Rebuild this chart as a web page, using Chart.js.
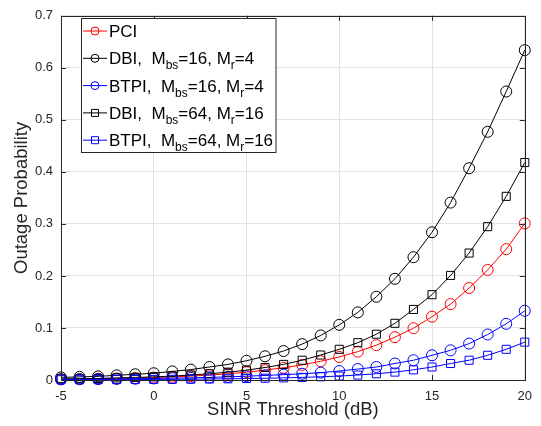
<!DOCTYPE html>
<html>
<head>
<meta charset="utf-8">
<script src="https://cdn.jsdelivr.net/npm/chart.js@4/dist/chart.umd.min.js"></script>
<style>
  html, body { margin: 0; padding: 0; background: #fff; }
  #wrap { width: 541px; height: 426px; }
</style>
</head>
<body>
<div id="wrap"><canvas id="myChart" width="541" height="426"></canvas></div>
<script>
'use strict';

// data
var snrDb = [-5, -4, -3, -2, -1, 0, 1, 2, 3, 4, 5, 6, 7, 8, 9, 10, 11, 12, 13, 14, 15, 16, 17, 18, 19, 20];
var pci = [0.0015, 0.0019, 0.0024, 0.003, 0.0037, 0.0047, 0.006, 0.0075, 0.0095, 0.012, 0.015, 0.019, 0.0235, 0.029, 0.036, 0.0443, 0.0545, 0.067, 0.0824, 0.0995, 0.1217, 0.1458, 0.1768, 0.2116, 0.2515, 0.301];
var dbi16 = [0.005, 0.006, 0.007, 0.009, 0.011, 0.013, 0.0165, 0.020, 0.025, 0.030, 0.037, 0.0456, 0.0557, 0.069, 0.0856, 0.106, 0.130, 0.160, 0.1945, 0.236, 0.284, 0.341, 0.407, 0.477, 0.5545, 0.634];
var btpi16 = [0.0013, 0.0015, 0.0018, 0.0021, 0.0025, 0.003, 0.0035, 0.0042, 0.005, 0.006, 0.0073, 0.0088, 0.0103, 0.012, 0.0142, 0.0172, 0.021, 0.025, 0.0317, 0.038, 0.0475, 0.057, 0.070, 0.0875, 0.108, 0.133];
var dbi64 = [0.002, 0.0025, 0.003, 0.004, 0.005, 0.006, 0.0075, 0.0095, 0.012, 0.015, 0.019, 0.024, 0.030, 0.038, 0.048, 0.059, 0.0717, 0.088, 0.109, 0.1356, 0.164, 0.201, 0.244, 0.2947, 0.353, 0.418];
var btpi64 = [0.0005, 0.0006, 0.0007, 0.0008, 0.0009, 0.0011, 0.0013, 0.0016, 0.0019, 0.0023, 0.0028, 0.0034, 0.0041, 0.005, 0.0062, 0.0076, 0.0095, 0.012, 0.0152, 0.0195, 0.025, 0.0317, 0.038, 0.0475, 0.059, 0.0728];

var seriesNames = ['PCI', 'DBI,  M_{bs}=16, M_{r}=4', 'BTPI,  M_{bs}=16, M_{r}=4', 'DBI,  M_{bs}=64, M_{r}=16', 'BTPI,  M_{bs}=64, M_{r}=16'];
var seriesData = [pci, dbi16, btpi16, dbi64, btpi64];
var seriesColors = ['#ff0000', '#000000', '#0000ff', '#000000', '#0000ff'];
var seriesMarkers = ['circle', 'circle', 'circle', 'rect', 'rect'];

var xTicks = [-5, 0, 5, 10, 15, 20];
var yTicks = [0, 0.1, 0.2, 0.3, 0.4, 0.5, 0.6, 0.7];

var FONT = '"Liberation Sans", Arial, Helvetica, sans-serif';
var AXIS_COLOR = '#262626';

// build datasets
var datasets = [];
for (var i = 0; i < seriesNames.length; i++) {
  var pts = [];
  for (var j = 0; j < snrDb.length; j++) {
    pts.push({x: snrDb[j], y: seriesData[i][j]});
  }
  datasets.push({
    label: seriesNames[i],
    data: pts,
    borderColor: seriesColors[i],
    backgroundColor: 'rgba(0,0,0,0)',
    pointBackgroundColor: 'rgba(0,0,0,0)',
    pointBorderColor: seriesColors[i],
    pointStyle: seriesMarkers[i],
    pointRadius: seriesMarkers[i] === 'rect' ? 5.7 : 5.5,
    pointBorderWidth: 1,
    borderWidth: 1,
    tension: 0,
    clip: false,
    order: seriesNames.length - i
  });
}

// box round the axes with matlab style inward ticks
var axesBox = {
  id: 'axesBox',
  afterDatasetsDraw: function (chart) {
    var ctx = chart.ctx;
    var a = chart.chartArea;
    var xs = chart.scales.x;
    var ys = chart.scales.y;
    var t = 5;
    ctx.save();
    ctx.strokeStyle = AXIS_COLOR;
    ctx.lineWidth = 1;
    ctx.strokeRect(Math.round(a.left) + 0.5, Math.round(a.top) + 0.5, Math.round(a.right - a.left), Math.round(a.bottom - a.top));
    ctx.beginPath();
    for (var i = 0; i < xTicks.length; i++) {
      var px = Math.round(xs.getPixelForValue(xTicks[i])) + 0.5;
      ctx.moveTo(px, a.bottom); ctx.lineTo(px, a.bottom - t);
      ctx.moveTo(px, a.top); ctx.lineTo(px, a.top + t);
    }
    for (var k = 0; k < yTicks.length; k++) {
      var py = Math.round(ys.getPixelForValue(yTicks[k])) + 0.5;
      ctx.moveTo(a.left, py); ctx.lineTo(a.left + t, py);
      ctx.moveTo(a.right, py); ctx.lineTo(a.right - t, py);
    }
    ctx.stroke();
    ctx.restore();
  }
};

// split 'M_{bs}' into normal and subscript parts
function parseLabel(str) {
  var parts = [];
  var re = /_\{([^}]*)\}/g;
  var last = 0;
  var m;
  while ((m = re.exec(str)) !== null) {
    if (m.index > last) parts.push({text: str.slice(last, m.index), sub: false});
    parts.push({text: m[1], sub: true});
    last = re.lastIndex;
  }
  if (last < str.length) parts.push({text: str.slice(last), sub: false});
  return parts;
}

// legend with subscripts, drawn by hand
var subLegend = {
  id: 'subLegend',
  afterDraw: function (chart) {
    var ctx = chart.ctx;
    var boxX = 81.5, boxY = 18.5, boxW = 194.5, boxH = 134;
    var rowY = 31, rowStep = 27.3;
    ctx.save();
    ctx.fillStyle = '#ffffff';
    ctx.fillRect(boxX, boxY, boxW, boxH);
    ctx.strokeStyle = AXIS_COLOR;
    ctx.lineWidth = 1;
    ctx.strokeRect(boxX, boxY, boxW, boxH);
    for (var i = 0; i < seriesNames.length; i++) {
      var cy = rowY + i * rowStep;
      ctx.strokeStyle = seriesColors[i];
      ctx.beginPath();
      ctx.moveTo(83, cy); ctx.lineTo(107, cy);
      ctx.stroke();
      ctx.beginPath();
      if (seriesMarkers[i] === 'rect') {
        ctx.rect(91.5, cy - 3.5, 7, 7);
      } else {
        ctx.arc(95, cy, 4, 0, Math.PI * 2);
      }
      ctx.stroke();

      var parts = parseLabel(seriesNames[i]);
      var tx = 109;
      ctx.fillStyle = '#000000';
      ctx.textBaseline = 'alphabetic';
      for (var p = 0; p < parts.length; p++) {
        ctx.font = (parts[p].sub ? '12px ' : '17px ') + FONT;
        var by = cy + 6 + (parts[p].sub ? 5 : 0);
        ctx.fillText(parts[p].text, tx, by);
        tx += ctx.measureText(parts[p].text).width;
      }
    }
    ctx.restore();
  }
};

var ctx = document.getElementById('myChart').getContext('2d');

var chart = new Chart(ctx, {
  type: 'line',
  data: { datasets: datasets },
  options: {
    responsive: false,
    animation: false,
    layout: { padding: { top: 12, right: 13, left: 0, bottom: 0 } },
    plugins: {
      legend: { display: false },
      tooltip: { enabled: false }
    },
    scales: {
      x: {
        type: 'linear',
        min: -5,
        max: 20,
        afterFit: function (scale) { scale.height = 46; },
        afterBuildTicks: function (scale) {
          scale.ticks = xTicks.map(function (v) { return {value: v}; });
        },
        grid: { color: '#e3e3e3', drawTicks: false, lineWidth: 1 },
        border: { display: false },
        ticks: { color: AXIS_COLOR, font: { family: FONT, size: 13 }, padding: 9, maxRotation: 0 },
        title: { display: true, text: 'SINR Threshold (dB)', color: AXIS_COLOR, font: { family: FONT, size: 18.5 }, padding: { top: 0, bottom: 5 } }
      },
      y: {
        type: 'linear',
        min: 0,
        max: 0.7,
        afterFit: function (scale) { scale.width = 61; },
        afterBuildTicks: function (scale) {
          scale.ticks = yTicks.map(function (v) { return {value: v}; });
        },
        grid: { color: '#e3e3e3', drawTicks: false, lineWidth: 1 },
        border: { display: false },
        ticks: { color: AXIS_COLOR, font: { family: FONT, size: 13 }, padding: 8 },
        title: { display: true, text: 'Outage Probability', color: AXIS_COLOR, font: { family: FONT, size: 18.5 }, padding: { top: 11, bottom: 0 } }
      }
    }
  },
  plugins: [axesBox, subLegend]
});
</script>
</body>
</html>
